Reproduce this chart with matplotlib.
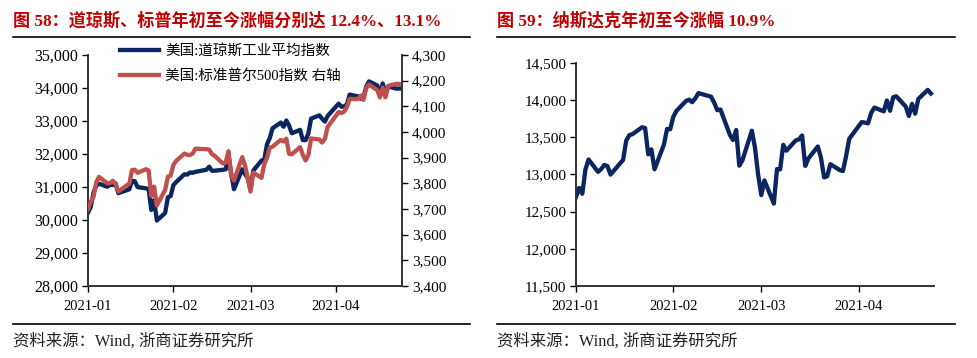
import pandas as pd
import matplotlib
matplotlib.use('Agg')
import matplotlib.pyplot as plt
from matplotlib.lines import Line2D
from matplotlib.ticker import FuncFormatter

plt.rcParams['font.family'] = ['Liberation Serif', 'Noto Sans CJK SC']

# trading days 2021-01-04 .. 2021-04-27 (NYSE holidays removed)
dates = pd.bdate_range('2021-01-04', '2021-04-27', freq='C',
                       holidays=['2021-01-18', '2021-02-15', '2021-04-02'])

dow = [30223, 30392, 30829, 31041, 31098, 31009, 31068, 31061, 31113, 30814,
       30930, 31188, 31176, 30997, 30960, 30937, 30303, 30603, 29983,
       30212, 30688, 30724, 31056, 31148, 31386, 31375, 31438, 31431, 31458,
       31523, 31614, 31494, 31494, 31522, 31537, 31962, 31403, 30932,
       31536, 31392, 31270, 30924, 31496, 31802, 31833, 32297, 32485, 32779,
       32953, 32826, 33015, 32862, 32628, 32731, 32423, 32420, 32619, 33072,
       33171, 33067, 32982,
       33153, 33527, 33430, 33446, 33503, 33801, 33746, 33677, 33730, 34036,
       34200, 34078, 33821, 34137, 33816, 34043, 33981, 33984]

spx = [3701, 3727, 3748, 3804, 3825, 3800, 3801, 3810, 3796, 3768,
       3799, 3852, 3853, 3841, 3855, 3850, 3751, 3787, 3714,
       3774, 3826, 3830, 3872, 3887, 3916, 3911, 3910, 3916, 3935,
       3933, 3931, 3914, 3907, 3877, 3881, 3925, 3829, 3811,
       3902, 3870, 3820, 3768, 3842, 3821, 3875, 3899, 3939, 3943,
       3969, 3963, 3974, 3915, 3913, 3941, 3911, 3889, 3910, 3975,
       3971, 3959, 3973,
       4020, 4078, 4074, 4080, 4097, 4129, 4128, 4142, 4125, 4170,
       4185, 4163, 4135, 4173, 4135, 4180, 4188, 4187]

ndx = [12698, 12819, 12741, 13067, 13202, 13036, 13072, 13129, 13113, 12999,
       13197, 13457, 13530, 13543, 13635, 13626, 13271, 13337, 13070,
       13403, 13612, 13610, 13778, 13856, 13988, 14007, 13973, 14025, 14095,
       14047, 13966, 13865, 13874, 13533, 13465, 13598, 13119, 13192,
       13589, 13359, 12998, 12723, 12920, 12609, 13073, 13069, 13399, 13320,
       13460, 13472, 13525, 13116, 13215, 13377, 13227, 12962, 12977, 13139,
       13059, 13046, 13247,
       13480, 13706, 13698, 13688, 13829, 13900, 13850, 13996, 13857, 14039,
       14052, 13914, 13787, 13950, 13818, 14016, 14138, 14090]

tick_dates = pd.to_datetime(['2021-01-04', '2021-02-04', '2021-03-04', '2021-04-04'])
tick_labels = ['2021-01', '2021-02', '2021-03', '2021-04']

title_l = '图 58：道琼斯、标普年初至今涨幅分别达 12.4%、13.1%'
title_r = '图 59：纳斯达克年初至今涨幅 10.9%'
source = '资料来源：Wind, 浙商证券研究所'
lab_dow = '美国:道琼斯工业平均指数'
lab_spx = '美国:标准普尔500指数 右轴'

NAVY = '#0B2561'
RED = '#C0504D'
W, H = 977, 358

fig = plt.figure(figsize=(W / 100, H / 100), dpi=100)
comma = FuncFormatter(lambda v, p: f'{v:,.0f}')
xlim = (pd.Timestamp('2021-01-04'), pd.Timestamp('2021-04-28'))


def style(ax, size):
    ax.set_xlim(*xlim)
    ax.set_xticks(tick_dates)
    ax.set_xticklabels(tick_labels)
    ax.tick_params(direction='out', length=4, width=1, labelsize=size, pad=3)
    ax.tick_params(axis='x', labelsize=10.5, pad=6)
    ax.spines['top'].set_visible(False)
    ax.spines['right'].set_visible(False)
    for s in ('left', 'bottom'):
        ax.spines[s].set_linewidth(1.4)
        ax.spines[s].set_color('#333333')
    ax.yaxis.set_major_formatter(comma)


# left chart: Dow + S&P500 (right axis)
ax = fig.add_axes([88 / W, 1 - 286 / H, 314 / W, 231 / H])
ax.plot(dates, dow, color=NAVY, lw=3.1, label=lab_dow, solid_joinstyle='round')
ax.set_ylim(28000, 35000)
ax.set_yticks(range(28000, 35001, 1000))
style(ax, 11.5)

ax2 = ax.twinx()
ax2.plot(dates, spx, color=RED, lw=3.1, label=lab_spx, solid_joinstyle='round')
ax2.set_ylim(3400, 4300)
ax2.set_yticks(range(3400, 4301, 100))
ax2.yaxis.set_major_formatter(comma)
ax2.tick_params(direction='out', length=4, width=1, labelsize=11, pad=3)
for s in ('top', 'left', 'bottom'):
    ax2.spines[s].set_visible(False)
ax2.spines['right'].set_linewidth(1.4)
ax2.spines['right'].set_color('#333333')

h1, l1 = ax.get_legend_handles_labels()
h2, l2 = ax2.get_legend_handles_labels()
ax2.legend(h1 + h2, l1 + l2, loc='upper left', frameon=False,
           bbox_to_anchor=(120 / W, 1 - 44 / H), bbox_transform=fig.transFigure,
           borderpad=0, borderaxespad=0, handlelength=2.7, handletextpad=0.4,
           labelspacing=0.75, prop={'family': ['Liberation Serif', 'Noto Sans CJK SC'], 'size': 10.5})

# right chart: Nasdaq
bx = fig.add_axes([576 / W, 1 - 286 / H, 358 / W, 223 / H])
bx.plot(dates, ndx, color=NAVY, lw=3.1, solid_joinstyle='round')
bx.set_ylim(11500, 14500)
bx.set_yticks(range(11500, 14501, 500))
style(bx, 11)

# titles, rules and sources
for x0, x1, title in ((13, 470, title_l), (497, 955, title_r)):
    fig.text(x0 / W, 1 - 21 / H, title, color='#C00000', fontsize=12.3,
             fontweight='bold', va='center', ha='left')
    fig.add_artist(Line2D([x0 / W, x1 / W], [1 - 37 / H] * 2, color='black', lw=1.2))
    fig.add_artist(Line2D([x0 / W, x1 / W], [1 - 324 / H] * 2, color='black', lw=1.2))
    fig.text(x0 / W, 1 - 341 / H, source, color='#222222', fontsize=11.8,
             va='center', ha='left')

fig.savefig('out.png', dpi=100)
